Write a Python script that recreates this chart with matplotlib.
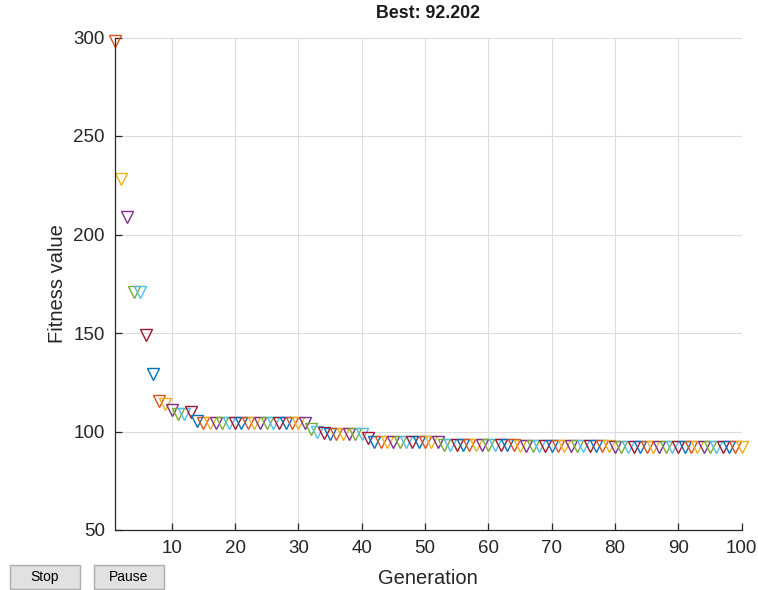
import matplotlib
matplotlib.use("Agg")
import matplotlib.pyplot as plt
from matplotlib.patches import Rectangle

plt.rcParams['font.family'] = ['Liberation Sans', 'DejaVu Sans']

generations = list(range(1, 101))
best_fitness = ([298, 228, 209, 171, 171, 149, 129, 115.5, 114, 111,
                 109, 109, 110, 105.5] + [104.4] * 17 +
                [101.5, 100, 99, 98.9, 98.9, 98.9, 98.9, 98.9, 98.9, 96.5] +
                [94.7] * 11 + [93.2] * 12 + [92.8] * 15 + [92.2] * 21)
title_text = "Best: 92.202"
x_ticks = [10, 20, 30, 40, 50, 60, 70, 80, 90, 100]
y_ticks = [50, 100, 150, 200, 250, 300]

colors = ['#0072BD', '#D95319', '#EDB120', '#7E2F8E', '#77AC30', '#4DBEEE', '#A2142F']

W, H = 758, 590
L, R, T, B = 114.7, 741.7, 37.5, 530.0
fig = plt.figure(figsize=(W / 100, H / 100), dpi=100)
ax = fig.add_axes([L / W, 1 - B / H, (R - L) / W, (B - T) / H])

for g, v in zip(generations, best_fitness):
    ax.plot([g], [v], linestyle='none', marker='v', markersize=9,
            markerfacecolor='none', markeredgecolor=colors[g % 7],
            markeredgewidth=1.0, clip_on=False)

ax.set_xlim(1, 100)
ax.set_ylim(50, 300)
ax.set_xticks(x_ticks)
ax.set_yticks(y_ticks)
ax.grid(True, color='#dcdcdc', linewidth=0.8)
ax.set_axisbelow(True)
for s in ['top', 'right']:
    ax.spines[s].set_visible(False)
for s in ['left', 'bottom']:
    ax.spines[s].set_color('#262626')
    ax.spines[s].set_linewidth(0.9)
ax.tick_params(direction='in', length=5, width=0.9, colors='#262626',
               labelsize=13.5, labelcolor='#262626')
ax.tick_params(axis='x', pad=7)
ax.tick_params(axis='y', pad=7)
ax.set_xlabel('Generation', fontsize=14.5, color='#262626', va='center')
ax.xaxis.set_label_coords(0.5, (B - 578) / (B - T))
ax.set_ylabel('Fitness value', fontsize=14.5, color='#262626', va='center')
ax.yaxis.set_label_coords((57 - L) / (R - L), 0.5)
ax.set_title(title_text, fontsize=12.8, fontweight='bold', color='#1a1a1a', pad=13.7)

# Stop / Pause buttons
for (x0, w, label) in [(10, 70, 'Stop'), (94, 70, 'Pause')]:
    r = Rectangle((x0 / W, 1 - 589 / H), w / W, 24 / H,
                  transform=fig.transFigure, facecolor='#e1e1e1',
                  edgecolor='#adadad', linewidth=1)
    fig.patches.append(r)
    fig.text((x0 + w / 2) / W, 1 - 577 / H, label, ha='center', va='center',
             fontsize=10, color='#000000')

fig.savefig('out.png', dpi=100)
